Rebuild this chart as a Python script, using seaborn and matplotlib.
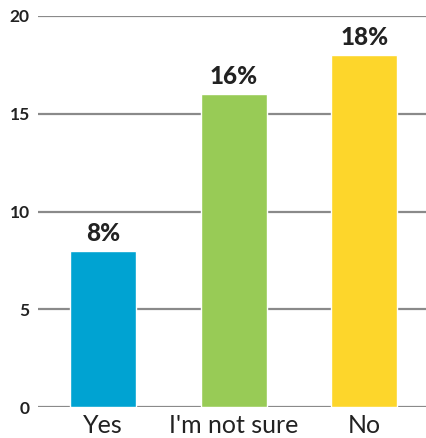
import matplotlib
matplotlib.use("Agg")
import matplotlib.pyplot as plt
import seaborn as sns
import pandas as pd

categories = ["Yes", "I'm not sure", "No"]
values = [8, 16, 18]
labels = ["8%", "16%", "18%"]
colors = ["#00A3D2", "#98CB56", "#FDD62B"]
yticks = [0, 5, 10, 15, 20]

sns.set_style("white")
plt.rcParams['font.family'] = ['Lato', 'DejaVu Sans']

df = pd.DataFrame({"cat": categories, "val": values})
fig = plt.figure(figsize=(4.27, 4.38), dpi=100)
ax = fig.add_axes([38/427, 31/438, 389/427, 391/438])
sns.barplot(data=df, x="cat", y="val", hue="cat", palette=colors, width=0.506,
            legend=False, ax=ax, saturation=1, zorder=3)
ax.set_ylim(0, 20)
ax.set_xlim(-0.5, 2.48)
ax.set_yticks(yticks)
ax.set_yticklabels([str(t) for t in yticks], fontsize=12.5, fontweight='bold', color='#222222')
ax.tick_params(axis='y', length=0, pad=6)
ax.tick_params(axis='x', length=0, pad=5, labelsize=18, labelcolor='#222222')
ax.set_xlabel("")
ax.set_ylabel("")
for y in yticks:
    ax.axhline(y, color="#8a8a8a", lw=1.6, zorder=1)
for s in ax.spines.values():
    s.set_visible(False)
for i, (v, l) in enumerate(zip(values, labels)):
    ax.text(i, v + 0.3, l, ha='center', va='bottom', fontsize=17.5, fontweight='black', color='#222222')
fig.savefig("out.png", dpi=100)
